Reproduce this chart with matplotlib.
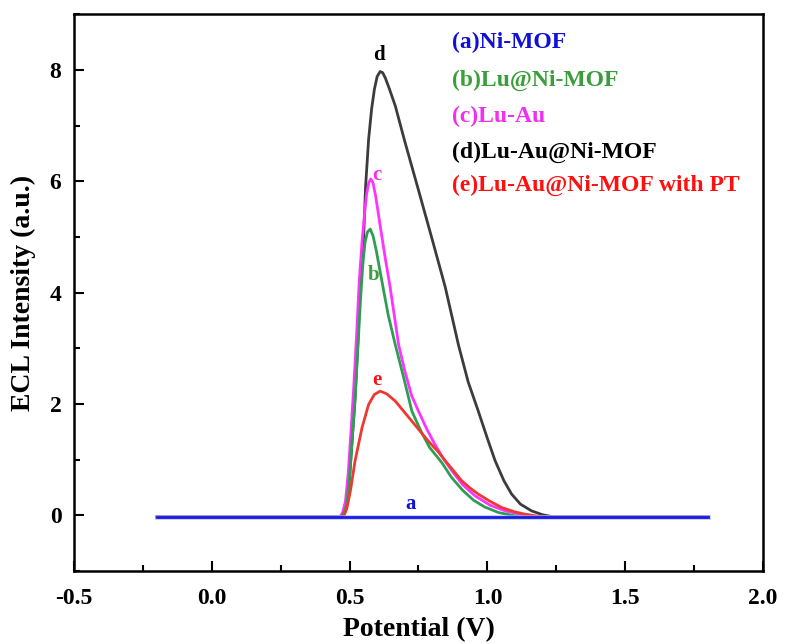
import matplotlib
matplotlib.use('Agg')
import matplotlib.pyplot as plt
from matplotlib.ticker import MultipleLocator, FuncFormatter

plt.rcParams['font.family'] = ['Liberation Serif', 'DejaVu Serif']
plt.rcParams['font.weight'] = 'bold'

# ── data (potential V, ECL intensity a.u.) ────────────────────────────
base = -0.03

pot_a = [-0.2, 1.8]
ecl_a = [base, base]

pot_b = [-0.2, 0.47, 0.48, 0.49, 0.50, 0.51, 0.52, 0.53, 0.54, 0.548, 0.556, 0.565,
         0.575, 0.585, 0.597, 0.611, 0.64, 0.666, 0.70, 0.726, 0.76, 0.79, 0.834,
         0.87, 0.91, 0.95, 0.99, 1.04, 1.08, 1.12, 1.8]
ecl_b = [base, base, 0.05, 0.2, 0.68, 1.4, 2.1, 3.0, 3.9, 4.5, 4.9, 5.09,
         5.14, 5.02, 4.75, 4.37, 3.6, 3.06, 2.4, 1.87, 1.5, 1.22, 0.95,
         0.68, 0.45, 0.27, 0.15, 0.05, 0.01, base, base]

pot_c = [-0.2, 0.465, 0.475, 0.485, 0.495, 0.505, 0.515, 0.525, 0.535, 0.545, 0.555,
         0.562, 0.57, 0.577, 0.585, 0.595, 0.611, 0.63, 0.647, 0.678, 0.70, 0.725,
         0.75, 0.78, 0.81, 0.84, 0.871, 0.91, 0.955, 1.01, 1.064, 1.12, 1.16, 1.8]
ecl_c = [base, base, 0.05, 0.25, 0.75, 1.5, 2.3, 3.2, 4.2, 4.9, 5.45,
         5.78, 5.98, 6.04, 5.97, 5.72, 5.2, 4.6, 4.1, 3.06, 2.6, 2.15,
         1.87, 1.55, 1.27, 1.02, 0.80, 0.55, 0.35, 0.18, 0.08, 0.02, base, base]

pot_d = [-0.2, 0.47, 0.48, 0.49, 0.50, 0.51, 0.52, 0.53, 0.539, 0.545, 0.551, 0.558,
         0.569, 0.58, 0.59, 0.60, 0.611, 0.62, 0.63, 0.645, 0.666, 0.70, 0.75, 0.80,
         0.847, 0.895, 0.93, 0.967, 1.00, 1.028, 1.06, 1.088, 1.12, 1.16, 1.20, 1.24, 1.8]
ecl_d = [base, base, 0.05, 0.2, 0.68, 1.4, 2.1, 3.1, 4.25, 4.65, 5.0, 5.9,
         6.75, 7.3, 7.65, 7.88, 7.97, 7.95, 7.85, 7.65, 7.35, 6.72, 5.84, 4.95,
         4.1, 3.06, 2.4, 1.87, 1.38, 0.98, 0.62, 0.38, 0.2, 0.08, 0.01, base, base]

pot_e = [-0.2, 0.47, 0.48, 0.49, 0.503, 0.52, 0.545, 0.569, 0.59, 0.611, 0.635,
         0.666, 0.696, 0.726, 0.756, 0.786, 0.82, 0.847, 0.877, 0.907, 0.937, 0.967,
         1.01, 1.052, 1.10, 1.137, 1.2, 1.8]
ecl_e = [base, base, 0.0, 0.12, 0.44, 0.98, 1.57, 1.99, 2.17, 2.23, 2.18,
         2.05, 1.87, 1.69, 1.51, 1.33, 1.15, 0.98, 0.80, 0.62, 0.49, 0.38,
         0.25, 0.14, 0.06, 0.02, base, base]

series_labels = ['(a)Ni-MOF', '(b)Lu@Ni-MOF', '(c)Lu-Au', '(d)Lu-Au@Ni-MOF',
                 '(e)Lu-Au@Ni-MOF with PT']
curve_tags = ['a', 'b', 'c', 'd', 'e']
tag_pos = [(0.72, 0.2), (0.587, 4.31), (0.60, 6.12), (0.607, 8.27), (0.598, 2.43)]
legend_y = [8.5, 7.82, 7.16, 6.52, 5.93]

colors = ['#1a1ae6', '#2e9e55', '#ff33ff', '#3c3c3c', '#ec3a2e']
text_colors = ['#1010d8', '#3a9e3a', '#f030f0', '#000000', '#ff1010']

# ── plot ─────────────────────────────────────────────────────────────
fig = plt.figure(figsize=(7.87, 6.44), dpi=100)
ax = fig.add_axes([0.094, 0.1134, 0.8755, 0.8646])

ax.plot(pot_d, ecl_d, color=colors[3], lw=2.0)
ax.plot(pot_c, ecl_c, color=colors[2], lw=2.0)
ax.plot(pot_b, ecl_b, color=colors[1], lw=2.0)
ax.plot(pot_e, ecl_e, color=colors[4], lw=2.0)
ax.plot(pot_a, ecl_a, color='#9fb8ff', lw=3.6, alpha=0.6)
ax.plot(pot_a, ecl_a, color=colors[0], lw=2.0)

for tag, (tx, ty), c in zip(curve_tags, tag_pos, text_colors):
    ax.text(tx, ty, tag, color=c, fontsize=15, fontweight='bold',
            ha='center', va='center')

for lab, ly, c in zip(series_labels, legend_y, text_colors):
    ax.text(0.87, ly, lab, color=c, fontsize=17, fontweight='bold',
            ha='left', va='center')

ax.set_xlim(-0.5, 2.0)
ax.set_ylim(-1, 9)
ax.xaxis.set_major_locator(MultipleLocator(0.5))
ax.xaxis.set_minor_locator(MultipleLocator(0.25))
ax.yaxis.set_major_locator(MultipleLocator(2))
ax.yaxis.set_minor_locator(MultipleLocator(1))
ax.tick_params(which='both', direction='in', width=1.5, labelsize=17)
ax.tick_params(which='major', length=7)
ax.tick_params(which='minor', length=4)
ax.tick_params(axis='x', pad=12)
ax.tick_params(axis='y', pad=9)
ax.xaxis.set_major_formatter(FuncFormatter(lambda v, p: f'{v:.1f}'))
for s in ax.spines.values():
    s.set_linewidth(1.8)

ax.set_xlabel('Potential (V)', fontsize=20, fontweight='bold', labelpad=6)
ax.set_ylabel('ECL Intensity (a.u.)', fontsize=20, fontweight='bold', labelpad=10)

fig.savefig('out.png', dpi=100)
